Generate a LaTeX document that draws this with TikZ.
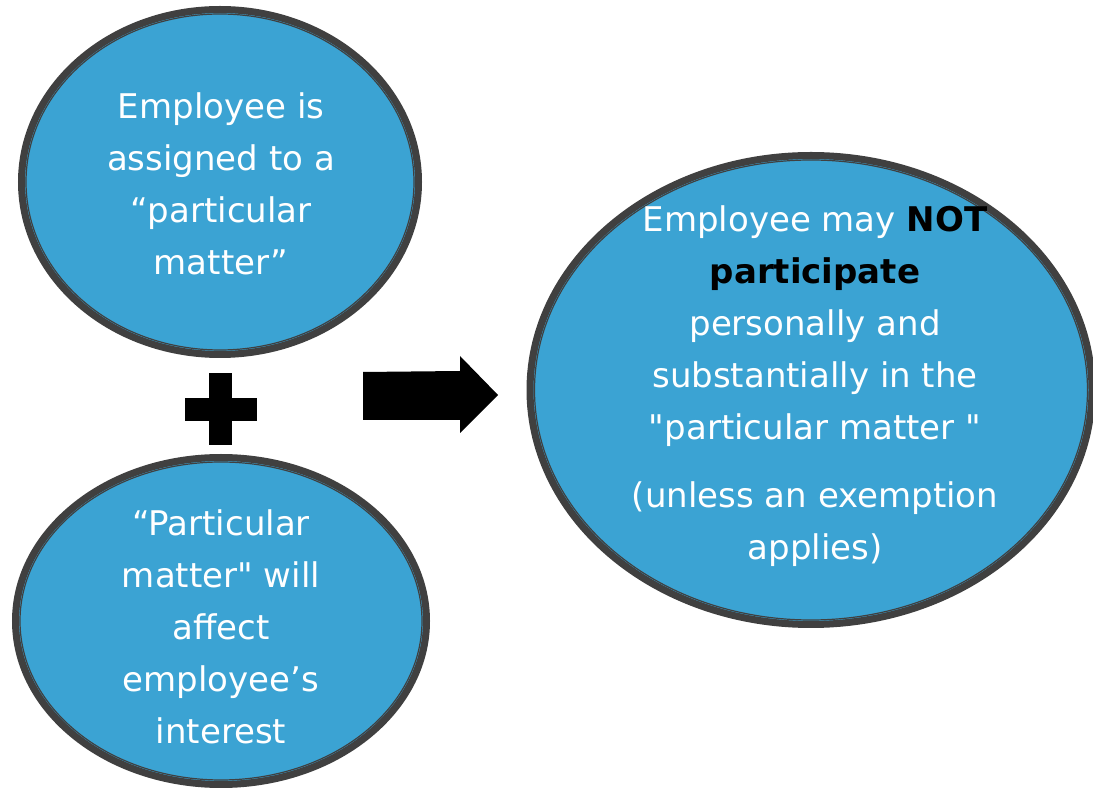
\documentclass[tikz,border=0pt]{standalone}
\usepackage{fontspec}
\newfontfamily\bubfont{DejaVu Sans}
\usetikzlibrary{positioning,calc,shapes.geometric}
\definecolor{bubblue}{HTML}{3BA3D3}
\definecolor{rimgray}{HTML}{404040}

\begin{document}
\begin{tikzpicture}[x=0.5pt,y=-0.5pt,
bub/.style={ellipse,draw=rimgray,fill=bubblue,line width=3.5pt,inner sep=0pt},
rim/.style={draw=rimgray,line width=0.6pt},
txt/.style={align=center,text=white,font=\bubfont\fontsize{17}{26}\selectfont}]

\useasboundingbox (0,0) rectangle (1093,790);

\node[bub,minimum width=198.5pt,minimum height=172.5pt] (assign) at (220,182) {};
\draw[rim] (assign.center) ellipse [x radius=194, y radius=168];
\node[txt] (assigntxt) at (221,184) {Employee is\\assigned to a\\“particular\\matter”};

\node[bub,minimum width=205.5pt,minimum height=163.5pt] (affect) at (221,621) {};
\draw[rim] (affect.center) ellipse [x radius=201, y radius=159];
\node[txt] (affecttxt) at (221,627) {“Particular\\matter" will\\affect\\employee’s\\interest};

\node[bub,minimum width=281pt,minimum height=234.5pt] (result) at (811,390) {};
\draw[rim] (result.center) ellipse [x radius=276.5, y radius=230];
\node[txt] (resulttxt) at (815,386) {Employee may \textcolor{black}{\bfseries NOT}\\\textcolor{black}{\bfseries participate}\\personally and\\substantially in the\\"particular matter "\\[8pt](unless an exemption\\applies)};

% plus sign
\fill (209,373) rectangle (232,445);
\fill (185,398) rectangle (257,421);

% block arrow
\fill (363,372) -- (460,371) -- (460,356) -- (498,395) -- (460,433) -- (460,420) -- (363,420) -- cycle;
\end{tikzpicture}
\end{document}
